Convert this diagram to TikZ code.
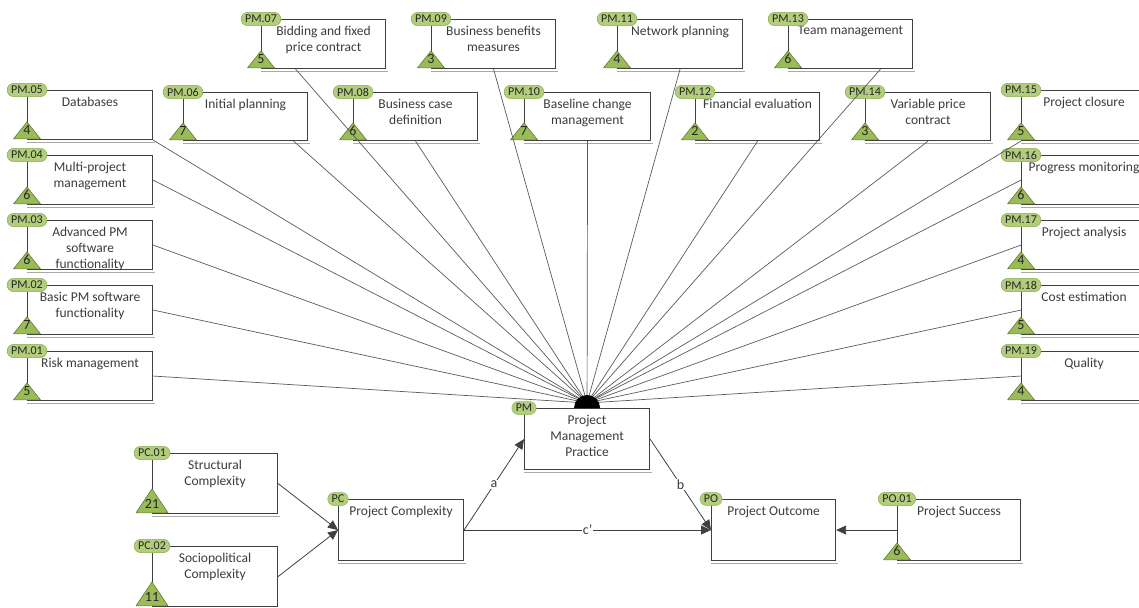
\documentclass[tikz,border=0pt]{standalone}
\usepackage{fontspec}
\setmainfont{Carlito}
\usetikzlibrary{arrows.meta,calc}
\definecolor{pillfill}{RGB}{178,206,124}
\definecolor{pilldraw}{RGB}{150,182,96}
\definecolor{trifill}{RGB}{155,187,89}
\definecolor{tridraw}{RGB}{98,128,48}
\definecolor{boxdraw}{RGB}{64,64,64}
\definecolor{txt}{RGB}{60,60,60}
\definecolor{conn}{RGB}{90,90,90}
\def\trihw{13.5}
\def\trih{17}
\newcommand\cbox[7]{% name, left, top, width, height, code, text
  \node[ebx, minimum width=#4pt, minimum height=#5pt, anchor=north west] (#1) at (#2,#3) {};
  \draw[shadowline] ([yshift=-1.8pt]#1.south west) -- ([xshift=1.8pt,yshift=-1.8pt]#1.south east);
  \node[etxt, anchor=north] (#1-t) at ([yshift=-7pt]#1.north) {#7};
  \node[pill] (#1-c) at (#1.north west) {#6};
}
\newcommand\ebox[8]{% name, left, top, width, height, code, number, text
  \cbox{#1}{#2}{#3}{#4}{#5}{#6}{#8}
  \draw[tri] ([xshift=-\trihw pt,yshift=1.2pt]#1.south west) -- ++(\trihw pt,\trih pt) -- ++(\trihw pt,-\trih pt) -- cycle;
  \node[trinum] (#1-n) at ([yshift=10.5pt]#1.south west) {#7};
  \node[pill] at (#1.north west) {#6};
}
\begin{document}
\begin{tikzpicture}[x=1pt,y=-1pt,
  ebx/.style={draw=boxdraw, line width=1.1pt, fill=white, inner sep=0pt},
  shadowline/.style={draw=boxdraw!45, line width=0.7pt},
  etxt/.style={inner sep=0pt, align=center, text=txt, font=\fontsize{13.5}{16}\selectfont},
  pill/.style={fill=pillfill, draw=pilldraw, line width=0.5pt, rounded corners=6.5pt, minimum height=13pt, inner xsep=4pt, inner ysep=0pt, text=black!85, font=\fontsize{12}{12}\selectfont},
  tri/.style={fill=trifill, draw=tridraw, line width=0.6pt, line join=round},
  trinum/.style={inner sep=0pt, text=black!85, font=\fontsize{14}{14}\selectfont},
  link/.style={draw=conn, line width=0.7pt},
  arr/.style={draw=black!75, line width=0.8pt, -{Triangle[length=10pt,width=9pt]}},
  lab/.style={fill=white, inner sep=1pt, text=txt, font=\fontsize{14}{14}\selectfont}
]
\useasboundingbox (0,0) rectangle (1139,607);

% central nodes
\cbox{pm}{524}{408}{125}{61}{PM}{Project\\Management\\Practice}
\cbox{pc}{338}{499}{125}{61}{PC}{Project Complexity}
\cbox{po}{711}{499}{124}{61}{PO}{Project Outcome}

% left column
\ebox{pm05}{27}{90}{125}{49}{PM.05}{4}{Databases}
\ebox{pm04}{27}{155}{125}{49}{PM.04}{6}{Multi-project\\management}
\ebox{pm03}{27}{220}{125}{49}{PM.03}{6}{Advanced PM\\software\\functionality}
\ebox{pm02}{27}{285}{125}{49}{PM.02}{7}{Basic PM software\\functionality}
\ebox{pm01}{27}{351}{125}{49}{PM.01}{5}{Risk management}

% top row 1
\ebox{pm07}{261}{19}{124}{49}{PM.07}{5}{Bidding and fixed\\price contract}
\ebox{pm09}{431}{19}{124}{49}{PM.09}{3}{Business benefits\\measures}
\ebox{pm11}{617}{19}{125}{49}{PM.11}{4}{Network planning}
\ebox{pm13}{788}{19}{124}{49}{PM.13}{6}{Team management}

% top row 2
\ebox{pm06}{183}{92}{124}{48}{PM.06}{7}{Initial planning}
\ebox{pm08}{353}{92}{124}{48}{PM.08}{6}{Business case\\definition}
\ebox{pm10}{524}{92}{126}{48}{PM.10}{7}{Baseline change\\management}
\ebox{pm12}{695}{92}{124}{48}{PM.12}{2}{Financial evaluation}
\ebox{pm14}{865}{92}{125}{48}{PM.14}{3}{Variable price\\contract}

% right column
\ebox{pm15}{1021}{90}{125}{50}{PM.15}{5}{Project closure}
\ebox{pm16}{1021}{155}{125}{49}{PM.16}{6}{Progress monitoring}
\ebox{pm17}{1021}{220}{125}{49}{PM.17}{4}{Project analysis}
\ebox{pm18}{1021}{285}{125}{49}{PM.18}{5}{Cost estimation}
\ebox{pm19}{1021}{351}{125}{49}{PM.19}{4}{Quality}

% outcome child
\ebox{po01}{897}{499}{123}{61}{PO.01}{6}{Project Success}

% complexity children (bigger triangles)
\def\trihw{16}
\def\trih{24}
\ebox{pc01}{152}{453}{125}{60}{PC.01}{21}{Structural\\Complexity}
\ebox{pc02}{152}{546}{125}{60}{PC.02}{11}{Sociopolitical\\Complexity}

% hub
\coordinate (hub) at ([yshift=5pt]pm.north);

% connectors to hub
\draw[link] (pm05.south east) -- (hub);
\draw[link] (pm04.east) -- (hub);
\draw[link] (pm03.east) -- (hub);
\draw[link] (pm02.east) -- (hub);
\draw[link] (pm01.east) -- (hub);
\draw[link] ([xshift=-28pt]pm07.south) -- (hub);
\draw[link] (pm09.south) -- (hub);
\draw[link] (pm11.south) -- (hub);
\draw[link] ([xshift=30pt]pm13.south) -- (hub);
\draw[link] ([xshift=48pt]pm06.south) -- (hub);
\draw[link] (pm08.south) -- (hub);
\draw[link] (pm10.south) -- (hub);
\draw[link] (pm12.south) -- (hub);
\draw[link] (pm14.south) -- (hub);
\draw[link] (pm15.south west) -- (hub);
\draw[link] (pm16.west) -- (hub);
\draw[link] (pm17.west) -- (hub);
\draw[link] (pm18.west) -- (hub);
\draw[link] (pm19.west) -- (hub);

% half disc on top of PM
\fill[black] ([xshift=-13pt]pm.north) arc[start angle=180, end angle=0, radius=13pt] -- cycle;

% arrows
\draw[arr] (pc01.east) -- (pc.west);
\draw[arr] (pc02.east) -- (pc.west);
\draw[arr] (pc.east) -- node[lab] {a} (pm.west);
\draw[arr] (pm.east) -- node[lab] {b} (po.west);
\draw[arr] (pc.east) -- node[lab] {c'} (po.west);
\draw[arr] (po01.west) -- (po.east);
\end{tikzpicture}
\end{document}
